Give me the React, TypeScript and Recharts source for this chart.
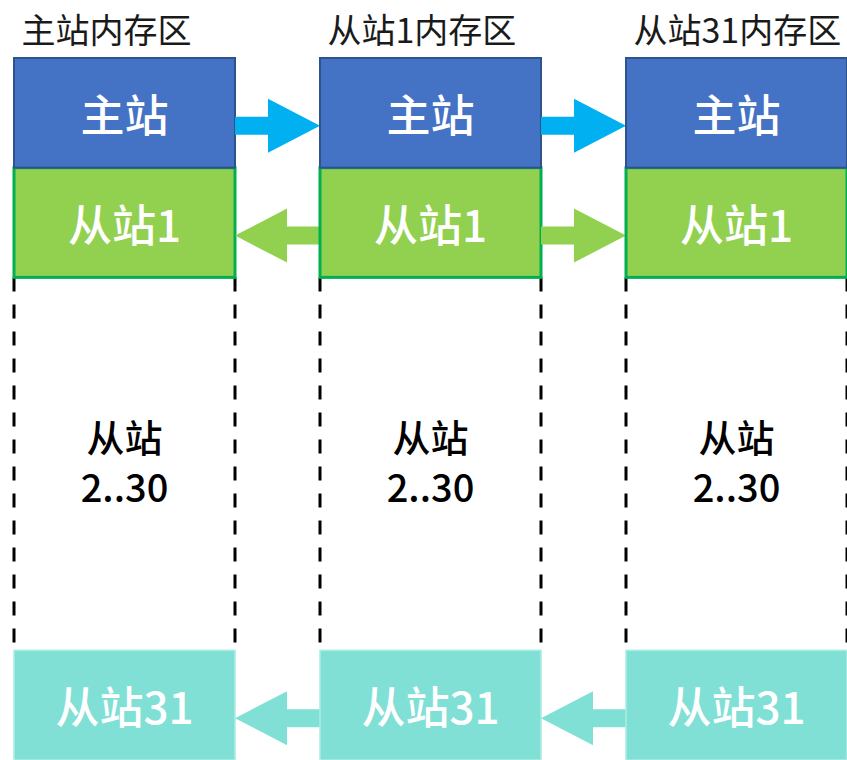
import React from 'react';
import { BarChart, Bar, XAxis, YAxis } from 'recharts';

// Memory regions (columns) and the blocks stacked in each of them
const CATEGORIES = ['主站内存区', '从站1内存区', '从站31内存区'];
const MASTER = [1, 1, 1];
const SLAVE1 = [1, 1, 1];
const SLAVES_MID = [3.4, 3.4, 3.4];
const SLAVE31 = [1, 1, 1];

const LABEL_MASTER = ['主站'];
const LABEL_SLAVE1 = ['从站1'];
const LABEL_MID = ['从站', '2..30'];
const LABEL_SLAVE31 = ['从站31'];

// arrow direction in the gap after column i
const ARROWS_MASTER = ['right', 'right'];
const ARROWS_SLAVE1 = ['left', 'right'];
const ARROWS_SLAVE31 = ['left', 'left'];

const FONT = '"Noto Sans CJK SC", "Noto Sans", sans-serif';
const BAR_SIZE = 221;
const BAND = 306;
const GAP = BAND - BAR_SIZE;

const data = CATEGORIES.map((name, i) => ({
  name,
  master: MASTER[i],
  slave1: SLAVE1[i],
  mid: SLAVES_MID[i],
  slave31: SLAVE31[i],
}));

function arrowPoints(x0: number, x1: number, cy: number, dir: string) {
  const shaft = 9;
  const head = 27;
  const headLen = 52;
  if (dir === 'right') {
    const hb = x1 - headLen;
    return [
      [x0, cy - shaft], [hb, cy - shaft], [hb, cy - head], [x1, cy],
      [hb, cy + head], [hb, cy + shaft], [x0, cy + shaft],
    ].map((p) => p.join(',')).join(' ');
  }
  const hb = x0 + headLen;
  return [
    [x1, cy - shaft], [hb, cy - shaft], [hb, cy - head], [x0, cy],
    [hb, cy + head], [hb, cy + shaft], [x1, cy + shaft],
  ].map((p) => p.join(',')).join(' ');
}

function makeBlock(fill: string, stroke: string, strokeWidth: number, labels: string[], arrows: string[], arrowColor: string) {
  return (props: any) => {
    const { x, y, width, height, index } = props;
    const top = Math.min(y, y + height);
    const h = Math.abs(height);
    const cx = x + width / 2;
    const cy = top + h / 2;
    const dir = arrows[index];
    return (
      <g>
        <rect x={x} y={top} width={width} height={h} fill={fill} stroke={stroke} strokeWidth={strokeWidth} />
        <text
          x={cx}
          y={cy}
          textAnchor="middle"
          dominantBaseline="central"
          fill="#ffffff"
          fontSize={44}
          fontWeight={500}
          fontFamily={FONT}
        >
          {labels[0]}
        </text>
        {dir && index < CATEGORIES.length - 1 ? (
          <polygon points={arrowPoints(x + width, x + width + GAP, cy + 13, dir)} fill={arrowColor} />
        ) : null}
      </g>
    );
  };
}

const MidShape = (props: any) => {
  const { x, y, width, height } = props;
  const top = Math.min(y, y + height);
  const h = Math.abs(height);
  const cx = x + width / 2;
  const cy = top + h / 2;
  return (
    <g>
      <line x1={x} y1={top} x2={x} y2={top + h} stroke="#000" strokeWidth={3} strokeDasharray="14 13" />
      <line x1={x + width} y1={top} x2={x + width} y2={top + h} stroke="#000" strokeWidth={3} strokeDasharray="14 13" />
      <text
        x={cx}
        y={cy - 25}
        textAnchor="middle"
        fill="#000"
        fontSize={38}
        fontWeight={500}
        fontFamily={FONT}
      >
        {LABEL_MID.map((t, i) => (
          <tspan key={i} x={cx} dy={i === 0 ? 13 : 50}>
            {t}
          </tspan>
        ))}
      </text>
    </g>
  );
};

const TopTick = (props: any) => {
  const { x, y, payload } = props;
  return (
    <text
      x={x - BAR_SIZE / 2 + 8}
      y={y}
      textAnchor="start"
      dominantBaseline="central"
      fill="#1a1a1a"
      fontSize={34}
      fontFamily={FONT}
    >
      {payload.value}
    </text>
  );
};

export default function App() {
  return (
    <div style={{ position: 'fixed', left: 0, top: 0, width: 847, height: 760, overflow: 'hidden', background: '#fff' }}>
      <div style={{ position: 'absolute', left: -29, top: 0 }}>
        <BarChart
          width={CATEGORIES.length * BAND}
          height={760}
          data={data}
          margin={{ top: 0, right: 0, bottom: 0, left: 0 }}
          barSize={BAR_SIZE}
        >
          <XAxis
            dataKey="name"
            orientation="top"
            height={58}
            axisLine={false}
            tickLine={false}
            tickSize={0}
            tickMargin={30}
            interval={0}
            tick={<TopTick />}
          />
          <YAxis hide domain={[0, 6.4]} />
          <Bar dataKey="slave31" stackId="a" isAnimationActive={false}
            shape={makeBlock('#80E0D6', '#ABEDE5', 1.5, LABEL_SLAVE31, ARROWS_SLAVE31, '#80E0D6')} />
          <Bar dataKey="mid" stackId="a" isAnimationActive={false} shape={<MidShape />} />
          <Bar dataKey="slave1" stackId="a" isAnimationActive={false}
            shape={makeBlock('#92D050', '#00B050', 3, LABEL_SLAVE1, ARROWS_SLAVE1, '#92D050')} />
          <Bar dataKey="master" stackId="a" isAnimationActive={false}
            shape={makeBlock('#4472C4', '#2F528F', 2, LABEL_MASTER, ARROWS_MASTER, '#00B0F0')} />
        </BarChart>
      </div>
    </div>
  );
}
